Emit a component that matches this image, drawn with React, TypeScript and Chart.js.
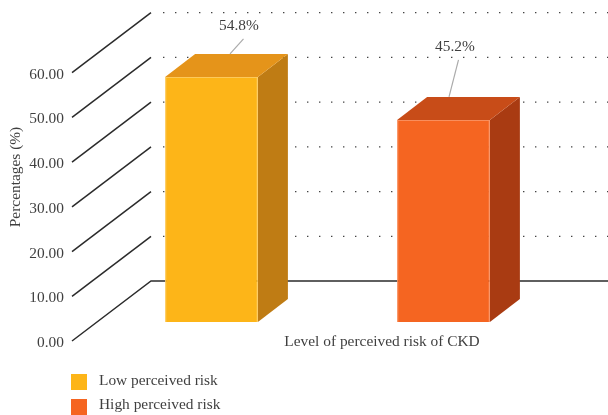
import React, { useEffect, useRef } from "react";
import { Chart, registerables } from "chart.js";

Chart.register(...registerables);

const categories = ["Low perceived risk", "High perceived risk"];
const percentages = [54.8, 45.2];
const yTicks = [0, 10, 20, 30, 40, 50, 60];
const yTitle = "Percentages (%)";
const xTitle = "Level of perceived risk of CKD";

const frontColors = ["#FDB518", "#F56521"];
const edgeColors = ["#FDC95A", "#F98E5C"];
const topColors = ["#E5941A", "#C84C18"];
const sideColors = ["#BF7C14", "#A93B12"];

const FONT = '"Liberation Serif", serif';
const FONT_SIZE = 15.4;
const TEXT = "#3f3f3f";
// 3D projection offsets
const WALL = { dx: 79, dy: -60 };
const SHIFT = { dx: 23.5, dy: -19 };
const BAR_DEPTH = { dx: 30, dy: -23 };
// leader-line geometry relative to the bar's rear top edge
const leaders = [
  { ax: 18.5, tx: 32, ty: -15, lx: 27.5, ly: -28 },
  { ax: 5.5, tx: 15, ty: -37, lx: 11.5, ly: -50 },
];

const threeD = {
  id: "threeD",
  beforeDatasetsDraw(chart: any) {
    const { ctx, scales } = chart;
    const y = scales.y;
    const left = chart.chartArea.left;
    const W = chart.width;
    ctx.save();
    yTicks.forEach((t) => {
      const py = y.getPixelForValue(t);
      ctx.beginPath();
      ctx.setLineDash([]);
      ctx.strokeStyle = "#2b2b2b";
      ctx.lineWidth = 1.5;
      ctx.moveTo(left, py);
      ctx.lineTo(left + WALL.dx, py + WALL.dy);
      if (t === 0) ctx.lineTo(W, py + WALL.dy);
      ctx.stroke();
      if (t !== 0) {
        ctx.beginPath();
        ctx.strokeStyle = "#444444";
        ctx.lineWidth = 1.2;
        ctx.setLineDash([1.4, 10.6]);
        ctx.moveTo(left + WALL.dx + 12, py + WALL.dy);
        ctx.lineTo(W, py + WALL.dy);
        ctx.stroke();
      }
    });
    ctx.setLineDash([]);
    const meta = chart.getDatasetMeta(0);
    meta.data.forEach((el: any, i: number) => {
      const xR = el.x + el.width / 2 + SHIFT.dx;
      const xL = el.x - el.width / 2 + SHIFT.dx;
      const top = el.y + SHIFT.dy;
      const bot = el.base + SHIFT.dy;
      ctx.fillStyle = sideColors[i];
      ctx.beginPath();
      ctx.moveTo(xR, top);
      ctx.lineTo(xR + BAR_DEPTH.dx, top + BAR_DEPTH.dy);
      ctx.lineTo(xR + BAR_DEPTH.dx, bot + BAR_DEPTH.dy);
      ctx.lineTo(xR, bot);
      ctx.closePath();
      ctx.fill();
      ctx.fillStyle = topColors[i];
      ctx.beginPath();
      ctx.moveTo(xL, top);
      ctx.lineTo(xL + BAR_DEPTH.dx, top + BAR_DEPTH.dy);
      ctx.lineTo(xR + BAR_DEPTH.dx, top + BAR_DEPTH.dy);
      ctx.lineTo(xR, top);
      ctx.closePath();
      ctx.fill();
    });
    ctx.restore();
  },
  beforeDatasetDraw(chart: any) {
    chart.ctx.save();
    chart.ctx.translate(SHIFT.dx, SHIFT.dy);
  },
  afterDatasetDraw(chart: any) {
    chart.ctx.restore();
  },
  afterDatasetsDraw(chart: any) {
    const { ctx } = chart;
    const meta = chart.getDatasetMeta(0);
    ctx.save();
    ctx.font = `${FONT_SIZE}px ${FONT}`;
    ctx.textAlign = "center";
    ctx.textBaseline = "middle";
    meta.data.forEach((el: any, i: number) => {
      const l = leaders[i];
      const ax = el.x + SHIFT.dx + l.ax;
      const ay = el.y + SHIFT.dy + BAR_DEPTH.dy;
      ctx.strokeStyle = "#ababab";
      ctx.lineWidth = 1.2;
      ctx.beginPath();
      ctx.moveTo(ax, ay);
      ctx.lineTo(el.x + SHIFT.dx + l.tx, ay + l.ty);
      ctx.stroke();
      ctx.fillStyle = TEXT;
      ctx.fillText(`${percentages[i]}%`, el.x + SHIFT.dx + l.lx, ay + l.ly);
    });
    // axis titles
    ctx.fillText(xTitle, 382, 342);
    ctx.save();
    ctx.translate(16, 177);
    ctx.rotate(-Math.PI / 2);
    ctx.fillText(yTitle, 0, 0);
    ctx.restore();
    // legend
    ctx.textAlign = "left";
    categories.forEach((c, i) => {
      const top = 374 + i * 25;
      ctx.fillStyle = frontColors[i];
      ctx.fillRect(71, top, 16, 16);
      ctx.fillStyle = TEXT;
      ctx.fillText(c, 99, top + 7 - i);
    });
    ctx.restore();
  },
};

export default function App() {
  const ref = useRef<HTMLCanvasElement>(null);
  useEffect(() => {
    document.body.style.margin = "0";
    const chart = new Chart(ref.current!, {
      type: "bar",
      data: {
        labels: categories,
        datasets: [
          {
            data: percentages,
            backgroundColor: frontColors,
            borderColor: edgeColors,
            borderWidth: 1,
            barPercentage: 0.4,
            categoryPercentage: 1,
            clip: false,
          } as any,
        ],
      },
      options: {
        animation: false,
        responsive: false,
        devicePixelRatio: 1,
        layout: { padding: { top: 72.7, bottom: 74, right: 72, left: 0 } },
        plugins: { legend: { display: false }, tooltip: { enabled: false }, title: { display: false } },
        scales: {
          x: { display: false, offset: true },
          y: {
            min: 0,
            max: 60,
            afterFit(s: any) {
              s.width = 72;
            },
            afterBuildTicks(s: any) {
              s.ticks = yTicks.map((value) => ({ value }));
            },
            grid: { display: false },
            border: { display: false },
            ticks: {
              padding: 0,
              labelOffset: 2,
              color: TEXT,
              font: { family: FONT, size: FONT_SIZE },
              callback: (v: any) => Number(v).toFixed(2),
            },
          },
        },
      },
      plugins: [threeD],
    });
    return () => chart.destroy();
  }, []);
  return (
    <div style={{ position: "fixed", left: 0, top: 0, width: 608, height: 415, background: "#fff" }}>
      <canvas ref={ref} width={608} height={415} style={{ display: "block" }} />
    </div>
  );
}
